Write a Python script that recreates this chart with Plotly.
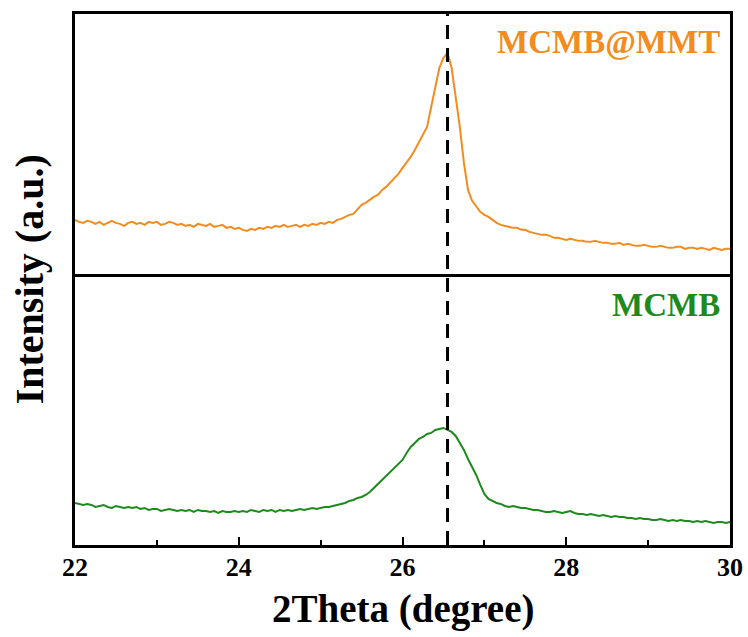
import plotly.graph_objects as go
from plotly.subplots import make_subplots

# ---- data (arbitrary intensity units) ----
two_theta = [round(22 + 0.05 * i, 2) for i in range(161)]

mcmb_mmt = [57, 55, 54, 56, 55, 53, 55, 52, 54, 56,
            54, 53, 51, 54, 55, 53, 54, 52, 55, 54,
            55, 52, 53, 55, 54, 52, 53, 51, 52, 50,
            53, 52, 51, 53, 50, 51, 52, 49, 50, 48,
            49, 47, 46, 48, 47, 49, 48, 50, 49, 51,
            50, 52, 50, 51, 52, 50, 52, 51, 53, 52,
            54, 53, 55, 54, 57, 58, 60, 62, 63, 67,
            72, 74, 77, 80, 82, 87, 90, 94, 98, 103,
            109, 114, 120, 127, 135, 142, 150, 170, 190, 209,
            219, 224, 209, 180, 150, 114, 87, 76, 70, 65,
            62, 60, 57, 54, 52, 51, 50, 49, 49, 47,
            47, 45, 44, 43, 42, 42, 41, 39, 39, 38,
            37, 38, 37, 36, 36, 35, 35, 36, 35, 34,
            34, 33, 33, 34, 32, 33, 32, 31, 31, 32,
            31, 30, 30, 31, 30, 29, 29, 30, 30, 28,
            29, 29, 28, 29, 28, 27, 29, 28, 27, 28,
            28]

mcmb = [42, 41, 40, 41, 40, 38, 39, 40, 38, 37,
        39, 38, 37, 38, 37, 38, 36, 37, 35, 36,
        36, 34, 35, 36, 35, 34, 35, 34, 35, 33,
        35, 34, 34, 33, 34, 32, 34, 33, 33, 34,
        33, 34, 33, 35, 34, 33, 35, 34, 35, 33,
        35, 34, 35, 34, 35, 36, 35, 36, 37, 36,
        37, 38, 38, 39, 40, 41, 42, 44, 45, 47,
        48, 50, 53, 57, 61, 65, 69, 73, 77, 81,
        85, 92, 98, 102, 106, 108, 111, 112, 115, 116,
        117, 115, 113, 109, 102, 95, 86, 78, 70, 60,
        51, 46, 44, 42, 41, 39, 38, 39, 38, 37,
        37, 36, 35, 35, 34, 33, 33, 34, 33, 32,
        33, 34, 32, 31, 31, 30, 31, 30, 29, 30,
        29, 28, 29, 28, 28, 27, 27, 26, 27, 26,
        26, 25, 25, 26, 25, 24, 25, 24, 25, 24,
        24, 23, 24, 23, 24, 23, 22, 23, 23, 22,
        23]

peak_position = 26.55
labels = ["MCMB@MMT", "MCMB"]
colors = ["#F28C1E", "#1E8A1E"]
x_ticks = [22, 24, 26, 28, 30]
x_minor_ticks = [23, 25, 27, 29]

FONT = "Liberation Serif"

fig = make_subplots(rows=2, cols=1, shared_xaxes=True, vertical_spacing=0)

fig.add_trace(go.Scatter(x=two_theta, y=mcmb_mmt, mode="lines", name=labels[0],
                         line=dict(color=colors[0], width=2)), row=1, col=1)
fig.add_trace(go.Scatter(x=two_theta, y=mcmb, mode="lines", name=labels[1],
                         line=dict(color=colors[1], width=2)), row=2, col=1)

fig.update_xaxes(range=[22, 30], showgrid=False, zeroline=False,
                 showline=True, linecolor="black", linewidth=2.5)
fig.update_xaxes(row=2, col=1, mirror=True, tickmode="array", tickvals=x_ticks,
                 ticks="inside", ticklen=8, tickwidth=2, tickcolor="black",
                 ticklabelstandoff=-3,
                 tickfont=dict(family=FONT, size=26, color="black", weight="bold"),
                 minor=dict(tickvals=x_minor_ticks, ticks="inside", ticklen=5,
                            tickwidth=2, tickcolor="black"))
fig.update_xaxes(row=1, col=1, side="top", mirror=False, showticklabels=False, ticks="")
fig.update_yaxes(showticklabels=False, ticks="", showline=True, linecolor="black",
                 linewidth=2.5, mirror=True, showgrid=False, zeroline=False)
fig.update_yaxes(row=1, col=1, range=[0, 263], domain=[0.505, 1])
fig.update_yaxes(row=2, col=1, range=[0, 268], domain=[0, 0.505])

fig.add_shape(type="line", x0=peak_position, x1=peak_position, xref="x", yref="paper",
              y0=0, y1=1, line=dict(color="black", width=3, dash="14px,9px"))

fig.add_annotation(text=labels[0], xref="paper", yref="paper", x=0.988, y=0.947,
                   xanchor="right", yanchor="middle", showarrow=False,
                   font=dict(family=FONT, size=33, color=colors[0], weight="bold"))
fig.add_annotation(text=labels[1], xref="paper", yref="paper", x=0.988, y=0.452,
                   xanchor="right", yanchor="middle", showarrow=False,
                   font=dict(family=FONT, size=33, color=colors[1], weight="bold"))

fig.add_annotation(text="Intensity (a.u.)", xref="paper", yref="paper", x=-0.069, y=0.5,
                   xanchor="center", yanchor="middle", textangle=-90, showarrow=False,
                   font=dict(family=FONT, size=40, color="black", weight="bold"))
fig.add_annotation(text="2Theta (degree)", xref="paper", yref="paper", x=0.5, y=-0.12,
                   xanchor="center", yanchor="middle", showarrow=False,
                   font=dict(family=FONT, size=39, color="black", weight="bold"))

fig.update_layout(width=748, height=637, margin=dict(l=75, r=18, t=14, b=92, autoexpand=False),
                  plot_bgcolor="white", paper_bgcolor="white", showlegend=False)

fig.write_html("out.html", config={"displayModeBar": False},
               post_script="document.body.style.margin='0';document.body.style.overflow='hidden';")
